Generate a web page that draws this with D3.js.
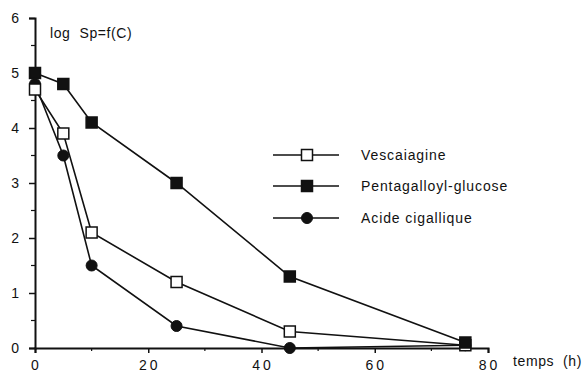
<!DOCTYPE html>
<html>
<head>
<meta charset="utf-8">
<script src="https://cdn.jsdelivr.net/npm/d3@7"></script>
<style>
  body { margin: 0; background: #fff; }
  svg { display: block; font-family: "Liberation Sans", Arial, sans-serif; }
</style>
</head>
<body>
<svg id="chart" width="586" height="375"></svg>
<script>
// data
const hours = [0, 5, 10, 25, 45, 76];
const vescalagine = [4.7, 3.9, 2.1, 1.2, 0.3, 0.05];
const pentagalloyl = [5.0, 4.8, 4.1, 3.0, 1.3, 0.1];
const acideGallique = [4.8, 3.5, 1.5, 0.4, 0.0, 0.05];

const seriesNames = ['Vescaiagine', 'Pentagalloyl-glucose', 'Acide cigallique'];
const xTicks = [0, 20, 40, 60, 80];
const yTicks = [0, 1, 2, 3, 4, 5, 6];

const svg = d3.select('#chart');

const x = d3.scaleLinear().domain([0, 80]).range([35, 488]);
const y = d3.scaleLinear().domain([0, 6]).range([348, 18]);

const ink = '#111';

// axes
const xAxis = d3.axisBottom(x).tickValues(xTicks).tickSize(5).tickFormat(d => d);
const yAxis = d3.axisLeft(y).tickValues(yTicks).tickSize(6).tickFormat(d => d);

const gx = svg.append('g').attr('transform', 'translate(0,348)').call(xAxis);
const gy = svg.append('g').attr('transform', 'translate(35,0)').call(yAxis);

// minor ticks
svg.append('g').selectAll('line').data([10, 30, 50, 70]).join('line')
  .attr('x1', d => x(d)).attr('x2', d => x(d))
  .attr('y1', 348).attr('y2', 351)
  .attr('stroke', ink).attr('stroke-width', 1.2);
svg.append('g').selectAll('line').data([0.5, 1.5, 2.5, 3.5, 4.5, 5.5]).join('line')
  .attr('x1', 31).attr('x2', 35)
  .attr('y1', d => y(d)).attr('y2', d => y(d))
  .attr('stroke', ink).attr('stroke-width', 1.2);

[gx, gy].forEach(g => {
  g.select('.domain').attr('stroke', ink).attr('stroke-width', 2);
  g.selectAll('.tick line').attr('stroke', ink).attr('stroke-width', 1.5);
  g.selectAll('.tick text').attr('fill', ink).attr('font-size', 14)
    .attr('font-family', '"Liberation Sans", Arial, sans-serif');
});
gx.selectAll('.tick text').attr('dy', '1.0em').attr('letter-spacing', 3).attr('dx', 1);
gy.selectAll('.tick text').attr('x', -16);

// axis titles
svg.append('text').attr('x', 50).attr('y', 38).attr('font-size', 14).attr('fill', ink)
  .attr('letter-spacing', 0.6).attr('xml:space', 'preserve').text('log  Sp=f(C)');
svg.append('text').attr('x', 513).attr('y', 366).attr('font-size', 14).attr('fill', ink)
  .attr('letter-spacing', 0.6).attr('xml:space', 'preserve').text('temps  (h)');

// series
const series = [
  {name: seriesNames[0], values: vescalagine, shape: 'square', fill: '#fff'},
  {name: seriesNames[1], values: pentagalloyl, shape: 'square', fill: ink},
  {name: seriesNames[2], values: acideGallique, shape: 'circle', fill: ink}
];

const line = d3.line().x(d => x(d[0])).y(d => y(d[1]));

function drawMarker(g, s, cx, cy) {
  if (s.shape === 'square') {
    g.append('rect').attr('x', cx - 5.5).attr('y', cy - 5.5)
      .attr('width', 11).attr('height', 11)
      .attr('fill', s.fill).attr('stroke', ink).attr('stroke-width', 1.5);
  } else {
    g.append('circle').attr('cx', cx).attr('cy', cy).attr('r', 5.5)
      .attr('fill', s.fill).attr('stroke', ink).attr('stroke-width', 1);
  }
}

// draw circles first so squares sit on top, as in the picture
const drawOrder = [series[2], series[0], series[1]];
drawOrder.forEach(s => {
  const pts = hours.map((h, i) => [h, s.values[i]]);
  const g = svg.append('g');
  g.append('path').attr('d', line(pts))
    .attr('fill', 'none').attr('stroke', ink).attr('stroke-width', 1.6);
  pts.forEach(p => drawMarker(g, s, x(p[0]), y(p[1])));
});

// legend
const legendY = [155, 186, 218];
series.forEach((s, i) => {
  const g = svg.append('g');
  g.append('line').attr('x1', 273).attr('x2', 339)
    .attr('y1', legendY[i]).attr('y2', legendY[i])
    .attr('stroke', ink).attr('stroke-width', 1.5);
  drawMarker(g, s, 307, legendY[i]);
  g.append('text').attr('x', 361).attr('y', legendY[i] + 5)
    .attr('font-size', 14).attr('letter-spacing', 0.9).attr('fill', ink).text(s.name);
});
</script>
</body>
</html>
